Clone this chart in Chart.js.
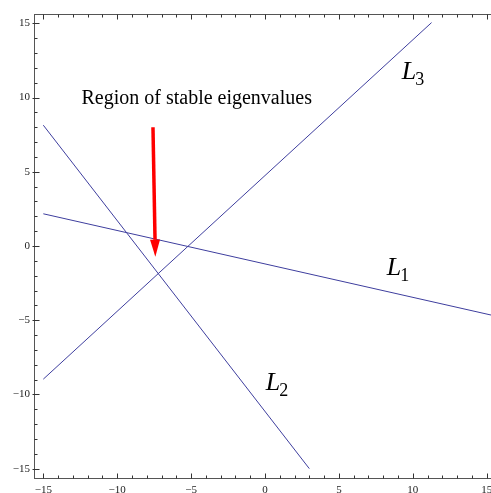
<!DOCTYPE html>
<html>
<head>
<meta charset="utf-8">
<script src="https://cdn.jsdelivr.net/npm/chart.js@4.4.1/dist/chart.umd.min.js"></script>
<style>
  html, body { margin: 0; padding: 0; background: #fff; overflow: hidden; }
  #wrap { width: 491px; height: 493px; overflow: hidden; }
  canvas { display: block; }
</style>
</head>
<body>
<div id="wrap"><canvas id="c" width="500" height="493"></canvas></div>
<script>
// --- data ---
const L1_X = [-15, 15.6];
const L1_Y = [2.17, -4.72];
const L2_X = [-15, 3.0];
const L2_Y = [8.14, -15];
const L3_X = [-15, 11.27];
const L3_Y = [-8.97, 15.05];

const X_TICKS = [-15, -10, -5, 0, 5, 10, 15];
const Y_TICKS = [-15, -10, -5, 0, 5, 10, 15];
const RANGE = 15.63;

// red arrow: tail -> tip
const ARROW_X = [-7.58, -7.42];
const ARROW_Y = [8.0, -0.72];

// text labels (data coords)
const NOTE_TEXT = "Region of stable eigenvalues";
const NOTE_XY = [-4.62, 9.54];
const LINE_NAMES = ["1", "2", "3"];
const NAME_X = [8.24, 0.05, 9.26];
const NAME_Y = [-1.93, -9.69, 11.23];

const SERIF = '"Liberation Serif", "Times New Roman", serif';
const BLUE = "rgb(62,62,158)";

const pts = (xs, ys) => xs.map((v, i) => ({ x: v, y: ys[i] }));
const fmt = v => (v < 0 ? "\u2212" + Math.abs(v) : String(v));

// frame + inward ticks + labels + arrow (Mathematica style)
const decor = {
  id: "decor",
  afterDatasetsDraw(chart) {
    const { ctx, chartArea: a, scales: { x, y } } = chart;
    const L = Math.round(a.left) + 0.5, R = Math.round(a.right) + 0.5;
    const T = Math.round(a.top) + 0.5, B = Math.round(a.bottom) + 0.5;
    ctx.save();

    // frame
    ctx.strokeStyle = "#555";
    ctx.lineWidth = 1;
    ctx.strokeRect(L, T, R - L, B - T);

    // ticks, every unit; majors every 5
    ctx.strokeStyle = "#333";
    for (let v = -15; v <= 15; v++) {
      const major = v % 5 === 0;
      const len = major ? 5 : 3;
      const px = Math.round(x.getPixelForValue(v)) + 0.5;
      const py = Math.round(y.getPixelForValue(v)) + 0.5;
      ctx.beginPath();
      ctx.moveTo(px, B); ctx.lineTo(px, B - len);
      ctx.moveTo(px, T); ctx.lineTo(px, T + len);
      ctx.moveTo(L - (major ? 2 : 0), py); ctx.lineTo(L + len, py);
      ctx.moveTo(R, py); ctx.lineTo(R - len, py);
      ctx.stroke();
    }

    // tick labels
    ctx.fillStyle = "#222";
    ctx.font = "11px " + SERIF;
    ctx.textAlign = "center";
    ctx.textBaseline = "top";
    X_TICKS.forEach(v => ctx.fillText(fmt(v), x.getPixelForValue(v), a.bottom + 7));
    ctx.textAlign = "right";
    ctx.textBaseline = "middle";
    Y_TICKS.forEach(v => ctx.fillText(fmt(v), a.left - 4, y.getPixelForValue(v)));

    // arrow
    const x0 = x.getPixelForValue(ARROW_X[0]), y0 = y.getPixelForValue(ARROW_Y[0]);
    const x1 = x.getPixelForValue(ARROW_X[1]), y1 = y.getPixelForValue(ARROW_Y[1]);
    const ang = Math.atan2(y1 - y0, x1 - x0);
    const head = 17, half = 5;
    const bx = x1 - head * Math.cos(ang), by = y1 - head * Math.sin(ang);
    ctx.strokeStyle = "#ff0000";
    ctx.fillStyle = "#ff0000";
    ctx.lineWidth = 3.5;
    ctx.beginPath();
    ctx.moveTo(x0, y0); ctx.lineTo(bx, by);
    ctx.stroke();
    ctx.beginPath();
    ctx.moveTo(x1, y1);
    ctx.lineTo(bx + half * Math.sin(ang), by - half * Math.cos(ang));
    ctx.lineTo(bx - half * Math.sin(ang), by + half * Math.cos(ang));
    ctx.closePath();
    ctx.fill();

    // annotation text
    ctx.fillStyle = "#000";
    ctx.textAlign = "center";
    ctx.textBaseline = "alphabetic";
    ctx.font = "20px " + SERIF;
    ctx.fillText(NOTE_TEXT, x.getPixelForValue(NOTE_XY[0]), y.getPixelForValue(NOTE_XY[1]));

    // L_1, L_2, L_3
    ctx.textAlign = "left";
    LINE_NAMES.forEach((s, i) => {
      const px = x.getPixelForValue(NAME_X[i]), py = y.getPixelForValue(NAME_Y[i]);
      ctx.font = "italic 26px " + SERIF;
      ctx.fillText("L", px, py);
      const w = ctx.measureText("L").width;
      ctx.font = "18px " + SERIF;
      ctx.fillText(s, px + w - 1, py + 6);
    });

    ctx.restore();
  },
};

const lineStyle = { borderColor: BLUE, borderWidth: 1, pointRadius: 0, showLine: true, fill: false };

new Chart(document.getElementById("c"), {
  type: "scatter",
  data: {
    datasets: [
      { label: "L1", data: pts(L1_X, L1_Y), ...lineStyle },
      { label: "L2", data: pts(L2_X, L2_Y), ...lineStyle },
      { label: "L3", data: pts(L3_X, L3_Y), ...lineStyle },
    ],
  },
  options: {
    responsive: false,
    animation: false,
    layout: { padding: { left: 34, top: 14, right: 4, bottom: 15 } },
    plugins: { legend: { display: false }, tooltip: { enabled: false } },
    scales: {
      x: { type: "linear", min: -RANGE, max: RANGE, display: false },
      y: { type: "linear", min: -RANGE, max: RANGE, display: false },
    },
  },
  plugins: [decor],
});
</script>
</body>
</html>
